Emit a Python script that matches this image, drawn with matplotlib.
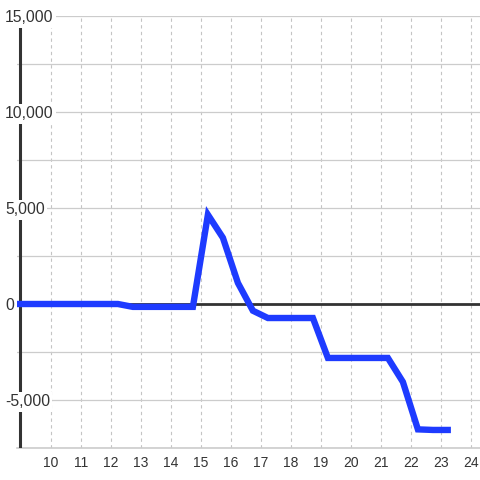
import matplotlib
matplotlib.use("Agg")
import matplotlib.pyplot as plt
from matplotlib.transforms import blended_transform_factory, ScaledTranslation

plt.rcParams['font.family'] = ['Liberation Sans', 'DejaVu Sans']

# half-hour samples (hour of day) and the series value
hours = [8.73, 9.23, 9.73, 10.23, 10.73, 11.23, 11.73, 12.23, 12.73, 13.23,
         13.73, 14.23, 14.73, 15.23, 15.73, 16.23, 16.73, 17.23, 17.73, 18.23,
         18.73, 19.23, 19.73, 20.23, 20.73, 21.23, 21.73, 22.23, 22.73, 23.33]
values = [0, 0, 0, 0, 0, 0, 0, 0, -150, -150,
          -150, -150, -150, 4650, 3450, 1100, -350, -730, -730, -730,
          -730, -2810, -2810, -2810, -2810, -2810, -4060, -6530, -6560, -6560]

x_ticks = list(range(10, 25))
y_grid = [-7500, -5000, -2500, 0, 2500, 5000, 7500, 10000, 12500, 15000]
y_labels = [-5000, 0, 5000, 10000, 15000]

W = 480
fig = plt.figure(figsize=(4.8, 4.8), dpi=100)
fig.patch.set_facecolor('white')
ax = fig.add_axes([17 / W, 32 / W, (W - 17) / W, 432 / W])
ax.set_xlim(10 - 34 / 30, 24.3)
ax.set_ylim(-7500, 15000)
for s in ax.spines.values():
    s.set_visible(False)

ax.set_xticks(x_ticks)
ax.set_yticks(y_grid)
ax.set_yticklabels([])
ax.tick_params(axis='y', length=0)
ax.tick_params(axis='x', length=0, pad=6, labelsize=10, labelcolor='#333333')
ax.grid(axis='x', color='#c4c4c4', lw=0.8, linestyle=(0, (3, 3)))
ax.grid(axis='y', color='#cccccc', lw=0.9)
ax.set_axisbelow(True)

spine_x = 10 - 31 / 30
x0, x1 = ax.get_xlim()
ax.axhline(-7500, color='#cccccc', lw=1.2, clip_on=False, zorder=1)
ax.axhline(0, xmin=(spine_x - x0) / (x1 - x0), color='#333333', lw=2.0, zorder=3)
ax.axvline(spine_x, color='#333333', lw=2.2, zorder=3)

# y labels sit over the axis line, baseline a little below the grid line
tr = blended_transform_factory(fig.transFigure, ax.transData) + \
    ScaledTranslation(0, -6.5 / 100, fig.dpi_scale_trans)
for v in y_labels:
    ax.text(5 / W, v, f'{v:,}', transform=tr, ha='left', va='baseline',
            fontsize=11.3, color='#333333', zorder=4, clip_on=False,
            bbox=dict(boxstyle='square,pad=0.15', fc='white', ec='none'))

ax.plot(hours, values, color='#1e3bff', lw=4.6, solid_capstyle='butt',
        solid_joinstyle='miter', zorder=5)

fig.savefig('out.png', dpi=100, facecolor='white')
